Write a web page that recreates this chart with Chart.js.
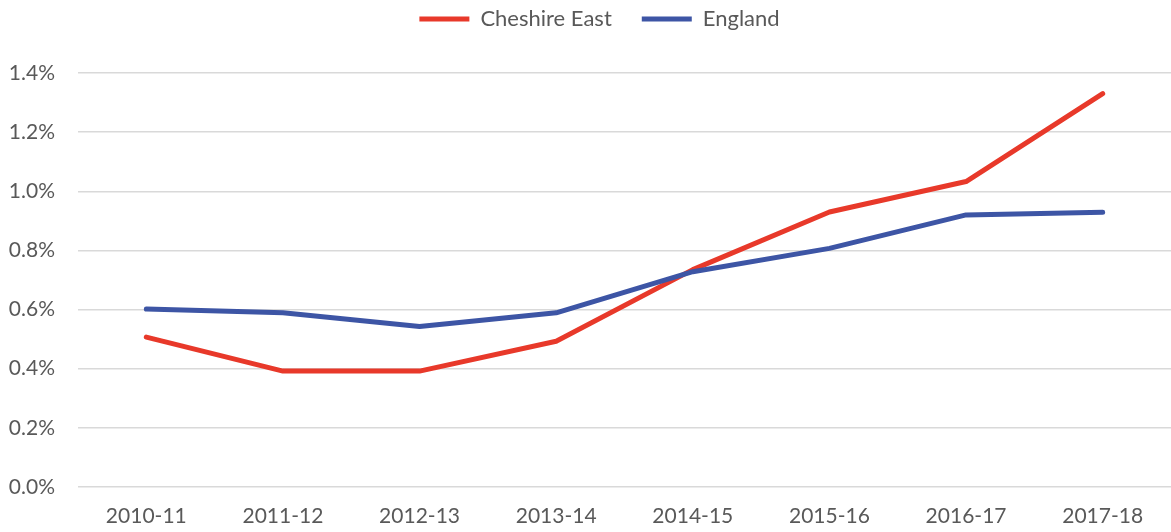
<!DOCTYPE html>
<html>
<head>
<meta charset="utf-8">
<script src="https://cdn.jsdelivr.net/npm/chart.js@4/dist/chart.umd.min.js"></script>
<style>
  html, body { margin: 0; padding: 0; background: #ffffff; }
  #wrap { width: 1171px; height: 532px; position: relative; }
</style>
</head>
<body>
<div id="wrap"><canvas id="c"></canvas></div>
<script>
const categories = ['2010-11', '2011-12', '2012-13', '2013-14', '2014-15', '2015-16', '2016-17', '2017-18'];
const cheshireEast = [0.507, 0.392, 0.392, 0.493, 0.735, 0.93, 1.033, 1.33];
const england = [0.602, 0.589, 0.543, 0.589, 0.728, 0.807, 0.92, 0.929];
const seriesNames = ['Cheshire East', 'England'];
const yTicks = [0, 0.2, 0.4, 0.6, 0.8, 1.0, 1.2, 1.4];

const RED = '#E8392A';
const BLUE = '#3D55A5';
const TEXT = '#595959';
const FONT = 'Lato';

const legendSpace = {
  id: 'legendSpace',
  beforeInit(chart) {
    const lg = chart.legend;
    if (!lg) return;
    const f = lg.fit;
    lg.fit = function () { f.call(this); this.height += 33; };
    const d = lg.draw;
    lg.draw = function () {
      const ctx = this.ctx;
      ctx.save();
      ctx.translate(13, 0);
      d.call(this);
      ctx.restore();
    };
  }
};

new Chart(document.getElementById('c'), {
  type: 'line',
  data: {
    labels: categories,
    datasets: [
      { label: seriesNames[0], data: cheshireEast, borderColor: RED, backgroundColor: RED,
        borderWidth: 5, pointRadius: 0, tension: 0, borderCapStyle: 'round', borderJoinStyle: 'round', order: 1 },
      { label: seriesNames[1], data: england, borderColor: BLUE, backgroundColor: BLUE,
        borderWidth: 5, pointRadius: 0, tension: 0, borderCapStyle: 'round', borderJoinStyle: 'round', order: 0 }
    ]
  },
  plugins: [legendSpace],
  options: {
    responsive: true,
    maintainAspectRatio: false,
    animation: false,
    layout: { padding: { left: 0, right: -2, top: -22, bottom: 0 } },
    plugins: {
      tooltip: { enabled: false },
      legend: {
        position: 'top',
        align: 'center',
        labels: {
          color: TEXT,
          font: { family: FONT, size: 22 },
          boxWidth: 50,
          boxHeight: 5,
          padding: 30,
          sort: (a, b) => a.datasetIndex - b.datasetIndex,
          generateLabels: (chart) => chart.data.datasets.map((ds, i) => ({
            text: ds.label,
            fillStyle: ds.borderColor,
            strokeStyle: ds.borderColor,
            lineWidth: 0,
            hidden: false,
            datasetIndex: i,
            fontColor: TEXT
          }))
        }
      }
    },
    scales: {
      x: {
        offset: true,
        grid: { display: false, drawTicks: false },
        border: { display: false },
        afterFit: (axis) => { axis.height = 45; },
        ticks: { color: TEXT, font: { family: FONT, size: 21 }, padding: 17, maxRotation: 0, autoSkip: false }
      },
      y: {
        min: 0,
        max: 1.4,
        afterBuildTicks: (axis) => { axis.ticks = yTicks.map(v => ({ value: v })); },
        afterFit: (axis) => { axis.width = 78; },
        grid: { color: '#D9D9D9', lineWidth: 1.5, drawTicks: false },
        border: { display: false },
        ticks: {
          color: TEXT,
          font: { family: FONT, size: 21 },
          padding: 23,
          callback: (v) => Number(v).toFixed(1) + '%'
        }
      }
    }
  }
});
</script>
</body>
</html>
